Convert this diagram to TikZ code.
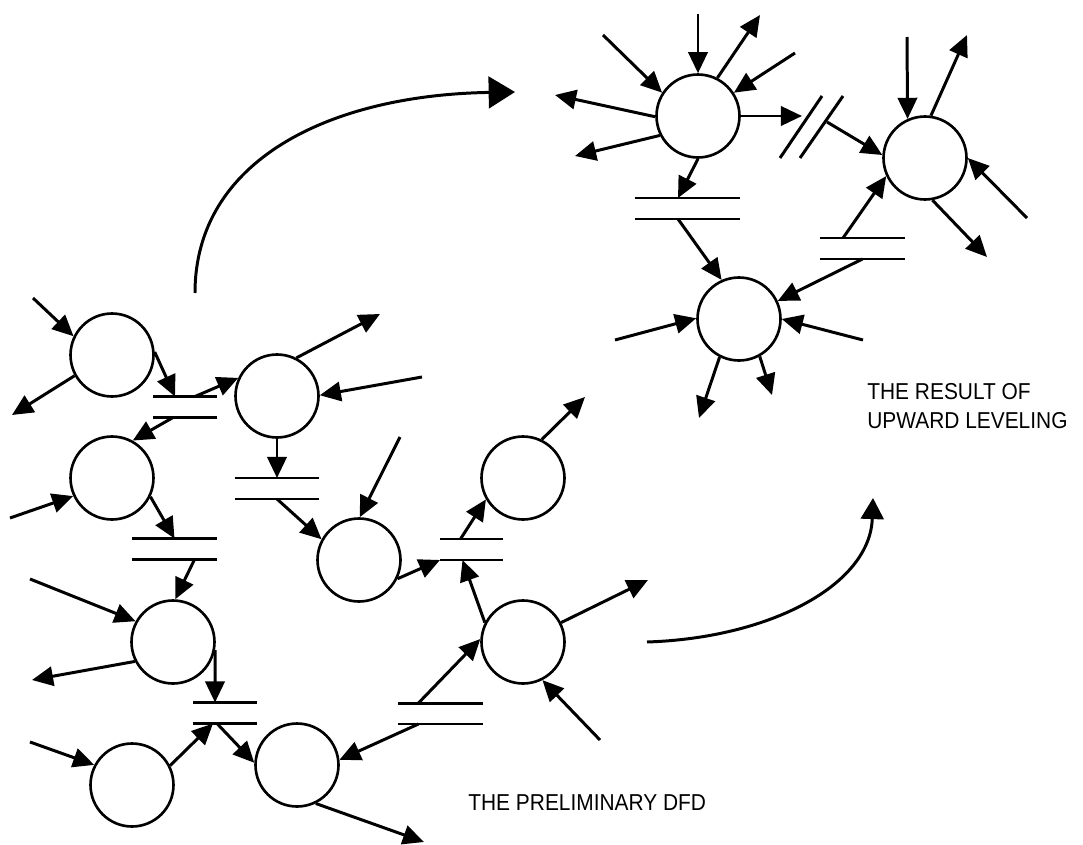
\documentclass[tikz,border=0pt]{standalone}
\usepackage{fontspec}
\usepackage{graphicx}
\setmainfont{Liberation Sans}
\usetikzlibrary{arrows.meta,calc}
\begin{document}
\begin{tikzpicture}[x=0.02cm,y=-0.02cm,
  proc/.style={circle,draw,line width=1.5pt,minimum size=1.66cm,inner sep=0pt},
  store/.style={rectangle,inner sep=0pt,outer sep=0pt,minimum height=0.42cm},
  storeline/.style={line width=1.7pt},
  flow/.style={line width=1.7pt,-{Triangle[length=12pt,width=11pt]}},
  bigflow/.style={line width=1.7pt,-{Triangle[length=15pt,width=18pt]}},
  midflow/.style={line width=1.7pt,-{Triangle[length=12pt,width=13pt]}},
  lbl/.style={font=\fontsize{11.9}{14}\selectfont,inner sep=0pt,anchor=base west}]

\useasboundingbox (0,0) rectangle (1083,845);

% processes
\node[proc] (c1) at (112,355) {};
\node[proc] (c2) at (277,396) {};
\node[proc] (c3) at (112,478) {};
\node[proc] (c4) at (359,560) {};
\node[proc] (c5) at (173,642) {};
\node[proc] (c6) at (132,785) {};
\node[proc] (c7) at (297,765) {};
\node[proc] (c8) at (523,478) {};
\node[proc] (c9) at (523,642) {};
\node[proc] (r1) at (698,116) {};
\node[proc] (r2) at (925,158) {};
\node[proc] (r3) at (739,319) {};

% stores
\node[store,minimum width=1.28cm] (s1) at (185,407) {};
\node[store,minimum width=1.68cm] (s2) at (277,488.5) {};
\node[store,minimum width=1.70cm] (s3) at (174.5,549) {};
\node[store,minimum width=1.28cm] (s4) at (225,713) {};
\node[store,minimum width=1.70cm] (s5) at (440.5,713.5) {};
\node[store,minimum width=1.26cm] (s6) at (471.5,549.5) {};
\node[store,minimum width=2.10cm] (s7) at (687.5,208.5) {};
\node[store,minimum width=1.70cm] (s8) at (862.5,248.5) {};
\foreach \s in {s1,s2,s3,s4,s5,s6,s7,s8}{
  \draw[storeline] (\s.north west) -- (\s.north east) (\s.south west) -- (\s.south east);
}

% free ends
\coordinate (e1) at (33,298);
\coordinate (e2) at (12,415);
\coordinate (e3) at (380,314);
\coordinate (e4) at (422,377);
\coordinate (e5) at (10,518);
\coordinate (e6) at (400,437);
\coordinate (e7) at (585,397);
\coordinate (e8) at (648,580);
\coordinate (e9) at (600,740);
\coordinate (e10) at (30,579);
\coordinate (e11) at (32,680);
\coordinate (e12) at (30,742);
\coordinate (e13) at (424,842);
\coordinate (e14) at (698,14);
\coordinate (e15) at (603,35);
\coordinate (e16) at (760,15);
\coordinate (e17) at (795,53);
\coordinate (e18) at (555,95);
\coordinate (e19) at (575,156);
\coordinate (e20) at (907,37);
\coordinate (e21) at (967,35);
\coordinate (e22) at (1027,218);
\coordinate (e23) at (987,257);
\coordinate (e24) at (615,340);
\coordinate (e25) at (863,340);
\coordinate (e26) at (699,418);
\coordinate (e27) at (772,395);
\coordinate (brk) at (811,127);
\coordinate (brkin) at (802,116);
\coordinate (brkout) at (827,122);

% left group flows
\draw[flow] (e1) -- (c1.154);
\draw[flow] (c1.209) -- (e2);
\draw[flow] (c1.4) -- ($(s1.north)+(-10,0)$);
\draw[flow] ($(s1.north)+(10,0)$) -- (c2.155);
\draw[flow] ($(s1.south)+(-12,0)$) -- (c3.61);
\draw[flow] (c2.63) -- (e3);
\draw[flow] (e4) -- (c2.1);
\draw[flow] (c2.south) -- (s2.north);
\draw[flow] (e5) -- (c3.205);
\draw[flow] (c3.334) -- (s3.north);
\draw[flow] (s2.south) -- (c4.151);
\draw[flow] (e6) -- (c4.89);
\draw[flow] (c4.334) -- (s6.south west);
\draw[flow] ($(s6.north)+(-11,0)$) -- (c8.210);
\draw[flow] (c8.64) -- (e7);
\draw[flow] (c9.153) -- ($(s6.south)+(-9,0)$);
\draw[flow] (c9.27) -- (e8);
\draw[flow] (e9) -- (c9.297);
\draw[flow] ($(s5.north)+(-22,0)$) -- (c9.176);
\draw[flow] ($(s5.south)+(-22,0)$) -- (c7.7);
\draw[flow] ($(s3.south)+(20,0)$) -- (c5.87);
\draw[flow] (e10) -- (c5.151);
\draw[flow] (c5.207) -- (e11);
\draw[flow] (c5.349) -- ($(s4.north)+(-10,0)$);
\draw[flow] (e12) -- (c6.152);
\draw[flow] (c6.27) -- ($(s4.south)+(-12,0)$);
\draw[flow] ($(s4.south)+(-8,0)$) -- (c7.177);
\draw[flow] (c7.296) -- (e13);

% right group flows
\draw[flow] (e14) -- (r1.90);
\draw[flow] (e15) -- (r1.147);
\draw[flow] (r1.63) -- (e16);
\draw[flow] (e17) -- (r1.33);
\draw[flow] (r1.181) -- (e18);
\draw[flow] (r1.207) -- (e19);
\draw[flow] (r1.0) -- (brkin);
\draw[storeline] ($(brk)+(-31,31)$) -- ($(brk)+(11,-31)$);
\draw[storeline] ($(brk)+(-11,31)$) -- ($(brk)+(32,-31)$);
\draw[flow] (brkout) -- (r2.176);
\draw[flow] (r1.270) -- ($(s7.north)+(-9.5,0)$);
\draw[flow] ($(s7.south)+(-9.5,0)$) -- (r3.114);
\draw[flow] (e20) -- (r2.114);
\draw[flow] (r2.82) -- (e21);
\draw[flow] (e22) -- (r2.0);
\draw[flow] (r2.280) -- (e23);
\draw[flow] ($(s8.north)+(-19.5,0)$) -- (r2.205);
\draw[flow] (s8.south) -- (r3.25);
\draw[flow] (e24) -- (r3.179);
\draw[flow] (e25) -- (r3.0);
\draw[flow] (r3.243) -- (e26);
\draw[flow] (r3.299) -- (e27);

% leveling arrows
\coordinate (ca0) at (195,293);
\coordinate (ca1) at (515,92);
\draw[bigflow] (ca0) .. controls (195,160) and (330,95) .. (ca1);
\coordinate (cb0) at (647,642);
\coordinate (cb1) at (873,498);
\draw[midflow] (cb0) .. controls (770,638) and (870,585) .. (cb1);

% labels
\node[lbl] (t1) at (468,810) {\scalebox{1}[1.1]{THE PRELIMINARY DFD}};
\node[lbl] (t2) at (867,399) {\scalebox{1}[1.1]{THE RESULT OF}};
\node[lbl] (t3) at (867,428) {\scalebox{1}[1.1]{UPWARD LEVELING}};
\end{tikzpicture}
\end{document}
